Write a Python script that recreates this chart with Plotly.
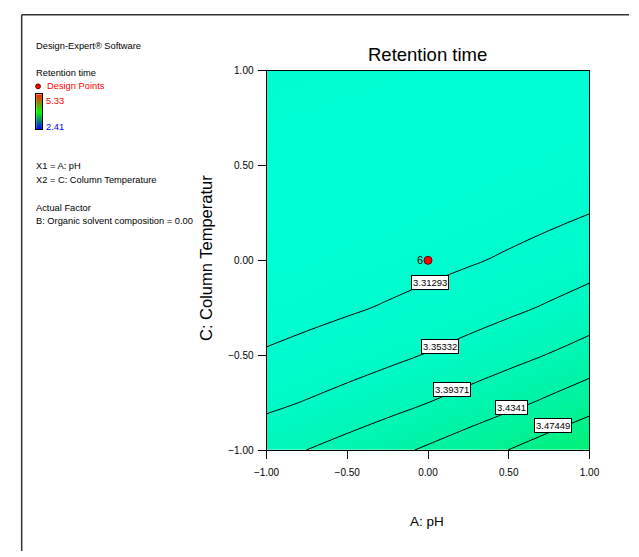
import plotly.graph_objects as go

# ---- data ----
x_vals = [-1.0, -0.75, -0.5, -0.25, 0.0, 0.25, 0.5, 0.75, 1.0]   # A: pH (coded)
y_vals = [-1.0, -0.75, -0.5, -0.25, 0.0, 0.25, 0.5, 0.75, 1.0]   # C: Column Temperature (coded)
# Retention time estimated over the grid (rows = y, cols = x)
z_rt = [
    [3.3808, 3.39391, 3.40805, 3.42321, 3.4394, 3.45661, 3.47485, 3.49411, 3.5144],
    [3.34485, 3.35549, 3.36717, 3.37987, 3.3936, 3.40834, 3.42412, 3.44092, 3.45875],
    [3.31653, 3.32472, 3.33393, 3.34417, 3.35543, 3.36772, 3.38103, 3.39537, 3.41073],
    [3.29585, 3.30157, 3.30832, 3.31609, 3.3249, 3.33472, 3.34557, 3.35744, 3.37035],
    [3.2828, 3.28606, 3.29035, 3.29566, 3.302, 3.30936, 3.31775, 3.32716, 3.3376],
    [3.27739, 3.27819, 3.28002, 3.28287, 3.28674, 3.29164, 3.29757, 3.30452, 3.31249],
    [3.27963, 3.27796, 3.27733, 3.27771, 3.27913, 3.28156, 3.28503, 3.28951, 3.29503],
    [3.28949, 3.28537, 3.28227, 3.28019, 3.27914, 3.27912, 3.28012, 3.28214, 3.28519],
    [3.307, 3.30041, 3.29485, 3.29031, 3.2868, 3.28431, 3.28285, 3.28241, 3.283],
]
contour_levels = [3.31293, 3.35332, 3.39371, 3.4341, 3.47449]
level_labels = ["3.31293", "3.35332", "3.39371", "3.4341", "3.47449"]
label_x = [0.015, 0.075, 0.146, 0.516, 0.773]
label_y = [-0.116, -0.452, -0.680, -0.778, -0.871]

design_x = [0.0]
design_y = [0.0]
design_count = ["6"]

range_low, range_high = 2.41, 5.33
x_ticks = [-1.0, -0.5, 0.0, 0.5, 1.0]
y_ticks = [-1.0, -0.5, 0.0, 0.5, 1.0]

W, H = 639, 557
FONT = "Liberation Sans, Arial, sans-serif"

def px(x):
    return x / W

def py(y):
    return 1 - y / H

fig = go.Figure()

# smooth colour surface
fig.add_trace(go.Heatmap(
    x=x_vals, y=y_vals, z=z_rt, zsmooth="best",
    zmin=3.277, zmax=3.515,
    colorscale=[[0.0, "rgb(0,255,214)"], [0.35, "rgb(0,249,196)"],
                [0.7, "rgb(0,243,160)"], [1.0, "rgb(0,240,118)"]],
    showscale=False, hoverinfo="skip",
))

# contour lines
fig.add_trace(go.Contour(
    x=x_vals, y=y_vals, z=z_rt,
    contours=dict(start=contour_levels[0], end=contour_levels[-1] + 1e-6,
                  size=contour_levels[1] - contour_levels[0], coloring="none"),
    line=dict(color="black", width=1, smoothing=1.3),
    showscale=False, hoverinfo="skip",
))

# design point
fig.add_trace(go.Scatter(
    x=design_x, y=design_y, mode="markers",
    marker=dict(color="#ff0000", size=8, line=dict(color="#600000", width=1)),
    hoverinfo="skip", showlegend=False,
))

# mini legend colour bar
fig.add_trace(go.Heatmap(
    x=[0], y=[range_low, range_high], z=[[range_low], [range_high]],
    zsmooth="best", xaxis="x2", yaxis="y2",
    colorscale=[[0.0, "#0000ff"], [0.5, "#00ff00"], [1.0, "#ff2000"]],
    showscale=False, hoverinfo="skip",
))

annotations = []
for lx, ly, lt in zip(label_x, label_y, level_labels):
    annotations.append(dict(
        x=lx, y=ly, xref="x", yref="y", text=lt, showarrow=False,
        xanchor="center", yanchor="middle",
        font=dict(family=FONT, size=9.5, color="black"),
        bgcolor="white", bordercolor="black", borderwidth=1, borderpad=1,
    ))

for dx, dy, dc in zip(design_x, design_y, design_count):
    annotations.append(dict(
        x=dx, y=dy, xref="x", yref="y", text=dc, showarrow=False,
        xanchor="right", yanchor="middle", xshift=-3,
        font=dict(family=FONT, size=11, color="black"),
    ))

left_texts = [
    ("Design-Expert® Software", 22, 42, "black"),
    ("Retention time", 22, 69, "black"),
    ("Design Points", 33, 83, "#ff0000"),
    ("5.33", 32, 98, "#ff0000"),
    ("2.41", 32, 124, "#0000ff"),
    ("X1 = A: pH", 22, 164, "black"),
    ("X2 = C: Column Temperature", 22, 179, "black"),
    ("Actual Factor", 22, 207, "black"),
    ("B: Organic solvent composition = 0.00", 22, 220, "black"),
]
for t, x, y, c in left_texts:
    annotations.append(dict(
        x=px(x), y=py(y), xref="paper", yref="paper", text=t, showarrow=False,
        xanchor="left", yanchor="middle",
        font=dict(family=FONT, size=9.3, color=c),
    ))

annotations.append(dict(x=px(430), y=py(50), xref="paper", yref="paper",
                        text="Retention time", showarrow=False,
                        xanchor="center", yanchor="middle",
                        font=dict(family=FONT, size=18.5, color="black")))
annotations.append(dict(x=px(429), y=py(527), xref="paper", yref="paper",
                        text="A: pH", showarrow=False,
                        xanchor="center", yanchor="middle",
                        font=dict(family=FONT, size=13.5, color="black")))
annotations.append(dict(x=px(200), y=py(345), xref="paper", yref="paper",
                        text="C: Column Temperatur", showarrow=False, textangle=-90,
                        xanchor="center", yanchor="bottom",
                        font=dict(family=FONT, size=16.5, color="black")))

shapes = [
    dict(type="line", xref="paper", yref="paper", x0=px(9), x1=px(639), y0=py(10), y1=py(10),
         line=dict(color="#333333", width=1.5)),
    dict(type="line", xref="paper", yref="paper", x0=px(9), x1=px(9), y0=py(10), y1=py(557),
         line=dict(color="#333333", width=1.5)),
    dict(type="circle", xref="paper", yref="paper", x0=px(23.5), x1=px(28.5), y0=py(80.5), y1=py(85.5),
         fillcolor="#ff0000", line=dict(color="#500000", width=1)),
]

fig.update_layout(
    width=W, height=H, autosize=False,
    margin=dict(l=0, r=0, t=0, b=0),
    paper_bgcolor="white", plot_bgcolor="white",
    showlegend=False,
    font=dict(family=FONT, size=10, color="black"),
    xaxis=dict(domain=[px(263), px(598)], range=[-1, 1], tickvals=x_ticks, tickformat=".2f",
               ticks="outside", ticklen=8, tickcolor="black", showgrid=False, zeroline=False,
               showline=True, mirror=True, linecolor="black", linewidth=1,
               ticklabelstandoff=5,
               tickfont=dict(family=FONT, size=10)),
    yaxis=dict(domain=[py(454), py(67)], range=[-1, 1], tickvals=y_ticks, tickformat=".2f",
               ticks="outside", ticklen=8, tickcolor="black", showgrid=False, zeroline=False,
               showline=True, mirror=True, linecolor="black", linewidth=1,
               ticklabelstandoff=2,
               tickfont=dict(family=FONT, size=10)),
    xaxis2=dict(domain=[px(24), px(30)], anchor="y2", visible=True, showticklabels=False,
                ticks="", showgrid=False, zeroline=False, showline=True, mirror=True,
                linecolor="black", linewidth=1, range=[-0.5, 0.5]),
    yaxis2=dict(domain=[py(127), py(91)], anchor="x2", showticklabels=False,
                ticks="", showgrid=False, zeroline=False, showline=True, mirror=True,
                linecolor="black", linewidth=1, range=[range_low, range_high]),
    annotations=annotations,
    shapes=shapes,
)

fig.write_html("out.html")
